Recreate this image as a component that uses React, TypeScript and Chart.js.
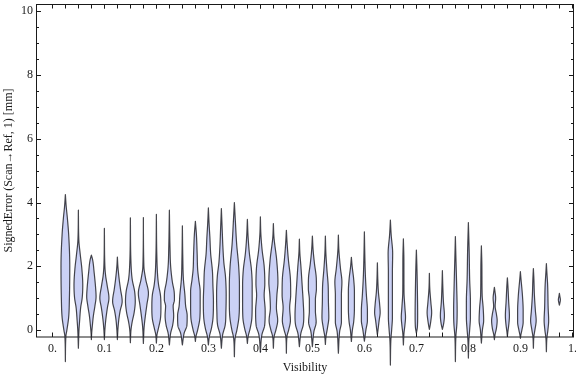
import React, { useEffect, useRef } from "react";
import { Chart, registerables } from "chart.js";

Chart.register(...registerables);

// ---- data ----
const VISIBILITY = [
  0.025, 0.05, 0.075, 0.1, 0.125, 0.15, 0.175, 0.2, 0.225, 0.25,
  0.275, 0.3, 0.325, 0.35, 0.375, 0.4, 0.425, 0.45, 0.475, 0.5,
  0.525, 0.55, 0.575, 0.6, 0.625, 0.65, 0.675, 0.7, 0.725, 0.75,
  0.775, 0.8, 0.825, 0.85, 0.875, 0.9, 0.925, 0.95, 0.975,
];
const ERR_MAX = [
  4.25, 3.76, 2.35, 3.19, 2.29, 3.52, 3.53, 3.63, 3.76, 3.27,
  3.41, 3.83, 3.81, 4.0, 3.47, 3.55, 3.34, 3.13, 2.85, 2.95,
  2.95, 2.98, 2.28, 3.08, 2.11, 3.45, 2.86, 2.51, 1.78, 1.86,
  2.93, 3.37, 2.64, 1.34, 1.64, 1.83, 1.93, 2.08, 1.15,
];
const ERR_MIN = [
  -0.99, -0.57, -0.3, -0.3, -0.3, -0.4, -0.42, -0.41, -0.47, -0.47,
  -0.36, -0.47, -0.57, -0.84, -0.42, -0.7, -0.57, -0.73, -0.52, -0.52,
  -0.45, -0.73, -0.36, -0.35, -0.15, -1.1, -0.47, -0.1, 0.02, 0.02,
  -0.99, -0.88, -0.41, -0.3, -0.2, -0.26, -0.57, -0.68, 0.78,
];
// density profile per violin: [signed error, relative density]
const DENSITY: number[][][] = [
  [[3.9,0.15],[3.5,0.4],[3.0,0.65],[2.0,0.87],[1.0,0.8],[0.4,0.65],[0.0,0.3],[-0.2,0.1]],
  [[2.8,0.1],[2.4,0.35],[1.9,0.7],[1.4,0.87],[1.0,0.75],[0.7,0.45],[0.3,0.25],[0.0,0.12]],
  [[2.2,0.25],[1.8,0.55],[1.3,0.85],[1.05,0.93],[0.75,0.7],[0.45,0.4],[0.15,0.2],[-0.1,0.06]],
  [[2.0,0.1],[1.7,0.25],[1.4,0.55],[1.0,0.9],[0.7,0.6],[0.35,0.3],[0.05,0.12]],
  [[2.0,0.1],[1.6,0.35],[1.3,0.6],[0.9,0.95],[0.6,0.55],[0.35,0.3],[0.05,0.12]],
  [[2.2,0.1],[1.6,0.35],[1.2,0.85],[0.9,0.97],[0.55,0.75],[0.25,0.35],[0.0,0.12]],
  [[2.0,0.1],[1.6,0.45],[1.15,1.0],[0.8,0.7],[0.45,0.4],[0.1,0.15]],
  [[2.4,0.08],[1.7,0.25],[1.4,0.45],[1.1,0.8],[0.7,0.9],[0.35,0.8],[0.05,0.4],[-0.15,0.12]],
  [[2.6,0.12],[2.0,0.25],[1.5,0.6],[1.2,0.95],[0.95,1.0],[0.75,0.75],[0.45,0.85],[0.15,0.65],[-0.1,0.25]],
  [[2.3,0.08],[1.6,0.2],[1.1,0.5],[0.75,0.65],[0.45,0.95],[0.15,0.9],[-0.1,0.35]],
  [[3.0,0.2],[2.4,0.35],[1.9,0.45],[1.6,0.65],[1.2,0.95],[0.8,0.95],[0.4,0.9],[0.0,0.45],[-0.2,0.12]],
  [[3.3,0.15],[2.9,0.3],[2.4,0.45],[1.85,0.8],[1.4,0.9],[0.9,1.0],[0.4,0.93],[0.05,0.6],[-0.2,0.2]],
  [[3.2,0.15],[2.6,0.3],[2.1,0.5],[1.7,0.8],[1.1,0.95],[0.6,0.9],[0.15,0.75],[-0.15,0.25]],
  [[3.4,0.2],[2.7,0.45],[2.0,0.85],[1.4,1.0],[0.9,1.0],[0.4,0.9],[0.0,0.5],[-0.25,0.15]],
  [[2.9,0.15],[2.4,0.4],[1.9,0.8],[1.4,0.95],[0.9,0.95],[0.4,0.9],[0.05,0.55],[-0.2,0.15]],
  [[3.0,0.1],[2.5,0.35],[2.0,0.75],[1.45,0.88],[1.1,0.75],[0.6,0.95],[0.15,0.85],[-0.15,0.3]],
  [[2.9,0.12],[2.2,0.65],[1.5,0.9],[1.1,0.7],[0.7,0.6],[0.3,0.85],[0.0,0.5],[-0.2,0.15]],
  [[2.7,0.15],[2.2,0.4],[1.6,0.8],[1.1,0.85],[0.7,0.65],[0.3,0.8],[0.0,0.45],[-0.2,0.12]],
  [[2.4,0.1],[2.0,0.3],[1.4,0.55],[0.9,0.75],[0.45,0.87],[0.15,0.75],[-0.1,0.3]],
  [[2.5,0.15],[2.1,0.4],[1.6,0.78],[1.3,0.8],[0.95,0.6],[0.6,0.6],[0.25,0.75],[-0.05,0.3]],
  [[2.4,0.1],[1.9,0.3],[1.4,0.55],[0.9,0.6],[0.4,0.68],[0.05,0.4],[-0.2,0.12]],
  [[2.5,0.1],[1.95,0.4],[1.5,0.7],[1.1,0.6],[0.65,0.6],[0.25,0.6],[-0.05,0.25]],
  [[2.0,0.15],[1.6,0.45],[1.2,0.6],[0.7,0.6],[0.25,0.45],[0.0,0.2]],
  [[2.4,0.08],[1.7,0.2],[1.1,0.4],[0.6,0.6],[0.3,0.6],[0.0,0.3]],
  [[1.6,0.08],[1.2,0.2],[0.8,0.45],[0.55,0.55],[0.3,0.35],[0.0,0.12]],
  [[3.0,0.15],[2.4,0.45],[1.8,0.4],[1.0,0.4],[0.4,0.4],[0.0,0.25],[-0.3,0.1]],
  [[2.2,0.1],[1.2,0.12],[0.7,0.3],[0.4,0.42],[0.15,0.3],[-0.1,0.12]],
  [[2.0,0.1],[1.2,0.2],[0.5,0.25],[0.1,0.2]],
  [[1.3,0.08],[0.85,0.3],[0.55,0.45],[0.3,0.3],[0.1,0.1]],
  [[1.4,0.08],[0.9,0.2],[0.45,0.4],[0.2,0.25]],
  [[2.3,0.1],[1.4,0.25],[0.6,0.35],[0.2,0.3],[-0.2,0.1]],
  [[2.5,0.15],[1.6,0.25],[0.9,0.4],[0.4,0.4],[0.0,0.25],[-0.3,0.1]],
  [[2.0,0.1],[1.1,0.15],[0.7,0.35],[0.3,0.45],[0.0,0.2]],
  [[1.2,0.12],[1.0,0.25],[0.75,0.15],[0.5,0.4],[0.3,0.55],[0.05,0.4],[-0.15,0.12]],
  [[1.4,0.1],[0.9,0.25],[0.45,0.4],[0.2,0.3],[-0.05,0.1]],
  [[1.6,0.12],[1.1,0.4],[0.6,0.55],[0.25,0.55],[0.0,0.3],[-0.15,0.1]],
  [[1.6,0.1],[1.1,0.2],[0.6,0.4],[0.3,0.55],[0.0,0.3],[-0.2,0.1]],
  [[1.8,0.1],[1.4,0.25],[0.7,0.35],[0.3,0.45],[0.0,0.3],[-0.25,0.1]],
  [[1.05,0.1],[0.95,0.2],[0.85,0.1]],
];

const X_TICKS = [0, 0.1, 0.2, 0.3, 0.4, 0.5, 0.6, 0.7, 0.8, 0.9, 1];
const X_TICK_LABELS = ["0.", "0.1", "0.2", "0.3", "0.4", "0.5", "0.6", "0.7", "0.8", "0.9", "1."];
const Y_TICKS = [0, 2, 4, 6, 8, 10];
const Y_MINOR_TICKS = [
  0.5, 1, 1.5, 2.5, 3, 3.5, 4.5, 5, 5.5, 6.5, 7, 7.5, 8.5, 9, 9.5,
];

const X_MIN = -0.0315;
const X_MAX = 1.0031;
const Y_MIN = -0.2197;
const Y_MAX = 10.229;
const HALF_WIDTH = 0.0097; // x-units for relative density 1

const FONT = { family: "'Liberation Serif', 'Times New Roman', serif", size: 12 };
const TEXT_COLOR = "#1a1a1a";
const FRAME_COLOR = "#1a1a1a";
const FILL = "rgb(203,209,245)";
const EDGE = "rgba(30,30,36,0.82)";

function monotone(xs: number[], ys: number[]) {
  const n = xs.length;
  const d: number[] = [];
  const m: number[] = new Array(n).fill(0);
  for (let i = 0; i < n - 1; i++) d[i] = (ys[i + 1] - ys[i]) / (xs[i + 1] - xs[i]);
  m[0] = d[0];
  m[n - 1] = d[n - 2];
  for (let i = 1; i < n - 1; i++) m[i] = d[i - 1] * d[i] <= 0 ? 0 : (d[i - 1] + d[i]) / 2;
  for (let i = 0; i < n - 1; i++) {
    if (d[i] === 0) { m[i] = 0; m[i + 1] = 0; continue; }
    const a = m[i] / d[i], b = m[i + 1] / d[i];
    const s = a * a + b * b;
    if (s > 9) { const t = 3 / Math.sqrt(s); m[i] = t * a * d[i]; m[i + 1] = t * b * d[i]; }
  }
  return (x: number) => {
    let i = 0;
    while (i < n - 2 && x > xs[i + 1]) i++;
    const h = xs[i + 1] - xs[i];
    const t = Math.min(1, Math.max(0, (x - xs[i]) / h));
    const t2 = t * t, t3 = t2 * t;
    return (2 * t3 - 3 * t2 + 1) * ys[i] + (t3 - 2 * t2 + t) * h * m[i] +
      (-2 * t3 + 3 * t2) * ys[i + 1] + (t3 - t2) * h * m[i + 1];
  };
}

const violinPlugin = {
  id: "violins",
  afterDatasetsDraw(chart: any) {
    const { ctx, chartArea: ca } = chart;
    const xs = chart.scales.x, ys = chart.scales.y;
    ctx.save();
    // frame
    ctx.strokeStyle = FRAME_COLOR;
    ctx.lineWidth = 1;
    ctx.strokeRect(ca.left + 0.5, ca.top + 0.5, ca.right - ca.left - 1, ca.bottom - ca.top - 0.5);
    // ticks
    ctx.beginPath();
    const vtick = (v: number, len: number) => {
      const y = Math.round(ys.getPixelForValue(v)) + 0.5;
      ctx.moveTo(ca.left, y); ctx.lineTo(ca.left + len, y);
      ctx.moveTo(ca.right, y); ctx.lineTo(ca.right - len, y);
    };
    Y_TICKS.forEach((v) => vtick(v, 5));
    Y_MINOR_TICKS.forEach((v) => vtick(v, 3));
    const htick = (v: number, len: number) => {
      const x = Math.round(xs.getPixelForValue(v)) + 0.5;
      ctx.moveTo(x, ca.bottom); ctx.lineTo(x, ca.bottom - len);
      ctx.moveTo(x, ca.top); ctx.lineTo(x, ca.top + len);
    };
    X_TICKS.forEach((v) => htick(v, 4.5));
    VISIBILITY.forEach((v) => htick(v, 4.5));
    ctx.stroke();

    // violins
    VISIBILITY.forEach((xc, i) => {
      const knots = [[ERR_MAX[i], 0], ...DENSITY[i], [ERR_MIN[i], 0]].sort((a, b) => a[0] - b[0]);
      const f = monotone(knots.map((k) => k[0]), knots.map((k) => k[1]));
      const lo = ERR_MIN[i], hi = ERR_MAX[i];
      const steps = Math.max(20, Math.ceil((hi - lo) / 0.01));
      const right: [number, number][] = [];
      const left: [number, number][] = [];
      for (let s = 0; s <= steps; s++) {
        const yv = hi - ((hi - lo) * s) / steps;
        const w = Math.max(0, f(yv)) * HALF_WIDTH;
        const py = ys.getPixelForValue(yv);
        right.push([xs.getPixelForValue(xc + w), py]);
        left.push([xs.getPixelForValue(xc - w), py]);
      }
      ctx.beginPath();
      right.forEach(([px, py], k) => (k === 0 ? ctx.moveTo(px, py) : ctx.lineTo(px, py)));
      for (let k = left.length - 1; k >= 0; k--) ctx.lineTo(left[k][0], left[k][1]);
      ctx.closePath();
      ctx.fillStyle = FILL;
      ctx.fill();
      ctx.strokeStyle = EDGE;
      ctx.lineWidth = 1.2;
      ctx.lineJoin = "round";
      ctx.stroke();
    });
    ctx.restore();
  },
};

export default function App() {
  const ref = useRef<HTMLCanvasElement>(null);
  useEffect(() => {
    document.body.style.margin = "0";
    const chart = new Chart(ref.current as HTMLCanvasElement, {
      type: "scatter",
      data: { datasets: [{ data: [], pointRadius: 0 }] },
      options: {
        responsive: false,
        animation: false,
        layout: { padding: { top: 4, right: 2, left: 0, bottom: 0 } },
        plugins: { legend: { display: false }, tooltip: { enabled: false } },
        scales: {
          x: {
            type: "linear",
            min: X_MIN,
            max: X_MAX,
            afterBuildTicks: (s: any) => { s.ticks = X_TICKS.map((v) => ({ value: v })); },
            afterFit: (s: any) => { s.height = 40; s.paddingLeft = 0; s.paddingRight = 0; },
            ticks: {
              callback: (_v: any, idx: number) => X_TICK_LABELS[idx],
              font: FONT, color: TEXT_COLOR, padding: 5, maxRotation: 0, autoSkip: false,
            },
            grid: { display: false, drawTicks: false },
            border: { display: false },
            title: { display: true, text: "Visibility", font: FONT, color: TEXT_COLOR, padding: { top: 0, bottom: 2 } },
          },
          y: {
            type: "linear",
            min: Y_MIN,
            max: Y_MAX,
            afterBuildTicks: (s: any) => { s.ticks = Y_TICKS.map((v) => ({ value: v })); },
            afterFit: (s: any) => { s.width = 36; s.paddingTop = 0; s.paddingBottom = 0; },
            ticks: {
              callback: (v: any) => String(v),
              font: FONT, color: TEXT_COLOR, padding: 3, autoSkip: false,
            },
            grid: { display: false, drawTicks: false },
            border: { display: false },
            title: {
              display: true, text: "SignedError (Scan\u2192Ref, 1) [mm]", font: FONT, color: TEXT_COLOR,
              padding: { top: 2, bottom: 0 },
            },
          },
        },
      },
      plugins: [violinPlugin],
    } as any);
    return () => chart.destroy();
  }, []);
  return (
    <div style={{ width: 576, height: 377 }}>
      <canvas ref={ref} width={576} height={377} style={{ display: "block" }} />
    </div>
  );
}
